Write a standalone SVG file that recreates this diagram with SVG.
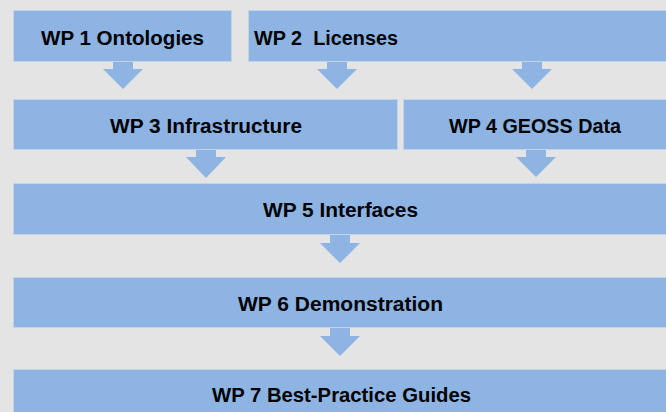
<svg xmlns="http://www.w3.org/2000/svg" width="666" height="412" viewBox="0 0 666 412">
<style>
.box{fill:#8db4e2;stroke:#c3d3e8;stroke-width:1}
.arr{fill:#8db4e2}
.lbl{font-family:"Liberation Sans",Arial,sans-serif;font-weight:bold;font-size:20px;fill:#000}
</style>
<rect x="0" y="0" width="666" height="412" fill="#e4e4e4"/>
<g id="connectors">
<path class="arr" d="M113 62H133V69H143L123 89L103 69H113Z"/>
<path class="arr" d="M327 62H347V69H357L337 89L317 69H327Z"/>
<path class="arr" d="M522 62H542V69H552L532 89L512 69H522Z"/>
<path class="arr" d="M196 150H216V157H226L206 178L186 157H196Z"/>
<path class="arr" d="M526 150H546V157H556L536 177L516 157H526Z"/>
<path class="arr" d="M330 235H350V243H360L340 263L320 243H330Z"/>
<path class="arr" d="M330 328H350V336H360L340 356L320 336H330Z"/>
</g>
<g id="wp1"><rect class="box" x="13.5" y="10.5" width="218" height="51"/><text class="lbl" x="41" y="45" textLength="163" lengthAdjust="spacingAndGlyphs">WP 1 Ontologies</text></g>
<g id="wp2"><rect class="box" x="248.5" y="10.5" width="420" height="51"/><text class="lbl" x="254" y="45" textLength="144" lengthAdjust="spacingAndGlyphs" xml:space="preserve">WP 2  Licenses</text></g>
<g id="wp3"><rect class="box" x="13.5" y="99.5" width="384" height="50"/><text class="lbl" x="110" y="133" textLength="192" lengthAdjust="spacingAndGlyphs">WP 3 Infrastructure</text></g>
<g id="wp4"><rect class="box" x="403.5" y="99.5" width="265" height="50"/><text class="lbl" x="449" y="133" textLength="172" lengthAdjust="spacingAndGlyphs">WP 4 GEOSS Data</text></g>
<g id="wp5"><rect class="box" x="13.5" y="183.5" width="655" height="51"/><text class="lbl" x="263" y="217" textLength="155" lengthAdjust="spacingAndGlyphs">WP 5 Interfaces</text></g>
<g id="wp6"><rect class="box" x="13.5" y="277.5" width="655" height="50"/><text class="lbl" x="238" y="311" textLength="205" lengthAdjust="spacingAndGlyphs">WP 6 Demonstration</text></g>
<g id="wp7"><rect class="box" x="13.5" y="369.5" width="655" height="50"/><text class="lbl" x="212" y="402" textLength="259" lengthAdjust="spacingAndGlyphs">WP 7 Best-Practice Guides</text></g>
</svg>
